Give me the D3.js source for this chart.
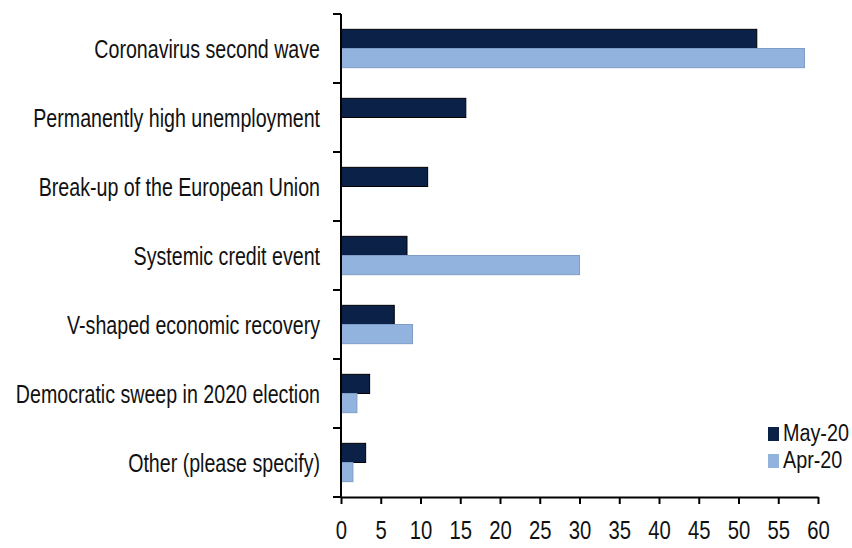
<!DOCTYPE html>
<html>
<head>
<meta charset="utf-8">
<script src="https://cdn.jsdelivr.net/npm/d3@7"></script>
<style>
  body { margin: 0; background: #fff; }
  text { font-family: "Liberation Sans", Arial, sans-serif; fill: #111; }
</style>
</head>
<body>
<div id="bar_chart"></div>
<script>
// chart data
var categories = ["Coronavirus second wave", "Permanently high unemployment",
                  "Break-up of the European Union", "Systemic credit event",
                  "V-shaped economic recovery", "Democratic sweep in 2020 election",
                  "Other (please specify)"];
var seriesNames = ["May-20", "Apr-20"];
var may20 = [52.3, 15.7, 10.9, 8.3, 6.7, 3.6, 3.1];
var apr20 = [58.3, 0, 0, 30.0, 9.0, 2.0, 1.5];
var xTicks = [0, 5, 10, 15, 20, 25, 30, 35, 40, 45, 50, 55, 60];
var colors = ["#0b2148", "#93b3df"];

var margin = {top: 14, right: 34, bottom: 51, left: 341},
    width = 852 - margin.left - margin.right,
    height = 548 - margin.top - margin.bottom;

// squeeze text horizontally to mimic a narrow font
function narrow(sel, sx) {
  sel.each(function() {
    var t = d3.select(this);
    var x0 = +t.attr("x") || 0;
    t.attr("x", x0 / sx).attr("transform", "scale(" + sx + ",1)");
  });
}

var svg = d3.select("#bar_chart")
  .append("svg")
    .attr("width", 852)
    .attr("height", 548)
  .append("g")
    .attr("transform", "translate(" + margin.left + "," + margin.top + ")");

var x = d3.scaleLinear().domain([0, 60]).range([0, width]);
var y = d3.scaleBand().domain(categories).range([0, height]).paddingInner(0).paddingOuter(0);
var sub = d3.scaleBand().domain(seriesNames).range([0, y.bandwidth()]).paddingInner(0).paddingOuter(0.8);

var rows = categories.map(function(c, i) {
  return {cat: c, vals: [{s: "May-20", v: may20[i]}, {s: "Apr-20", v: apr20[i]}]};
});

// bars
var g = svg.selectAll(".row").data(rows).enter().append("g")
  .attr("transform", function(d) { return "translate(0," + y(d.cat) + ")"; });

g.selectAll("rect")
  .data(function(d) { return d.vals.filter(function(e) { return e.v > 0; }); })
  .enter().append("rect")
    .attr("x", x(0))
    .attr("y", function(d) { return sub(d.s); })
    .attr("width", function(d) { return x(d.v) - x(0); })
    .attr("height", sub.bandwidth())
    .attr("fill", function(d) { return d.s === "May-20" ? colors[0] : colors[1]; })
    .attr("stroke", function(d) { return d.s === "May-20" ? "#000" : "#7f9cc6"; })
    .attr("stroke-width", 1);

// y axis
var yAxis = svg.append("g")
  .call(d3.axisLeft(y).tickSize(0).tickPadding(21).tickSizeOuter(0));
yAxis.select(".domain").remove();
yAxis.selectAll("text").style("font-size", "26px").attr("dy", "0.38em");
narrow(yAxis.selectAll("text"), 0.755);

svg.append("line")
  .attr("x1", 0).attr("x2", 0).attr("y1", 0).attr("y2", height)
  .attr("stroke", "#000").attr("stroke-width", 2);
// category separator ticks
svg.selectAll(".ytick").data(d3.range(categories.length + 1)).enter().append("line")
  .attr("x1", -8).attr("x2", 0)
  .attr("y1", function(i) { return i * y.step(); })
  .attr("y2", function(i) { return i * y.step(); })
  .attr("stroke", "#000").attr("stroke-width", 2);

// x axis
var xAxis = svg.append("g")
  .attr("transform", "translate(0," + height + ")")
  .call(d3.axisBottom(x).tickValues(xTicks).tickSize(7).tickPadding(17).tickSizeOuter(0));
xAxis.select(".domain").attr("stroke-width", 2);
xAxis.selectAll(".tick line").attr("stroke-width", 2);
xAxis.selectAll("text").style("font-size", "26px");
narrow(xAxis.selectAll("text"), 0.78);

// legend
var legend = svg.selectAll(".legend").data(seriesNames).enter().append("g")
  .attr("transform", function(d, i) { return "translate(427," + (427 + i * 27) + ")"; });
legend.append("rect")
  .attr("x", 0).attr("y", -14).attr("width", 11).attr("height", 14)
  .attr("fill", function(d, i) { return colors[i]; });
legend.append("text")
  .attr("x", 15)
  .style("font-size", "23px")
  .text(function(d) { return d; });
narrow(legend.selectAll("text"), 0.86);
</script>
</body>
</html>
